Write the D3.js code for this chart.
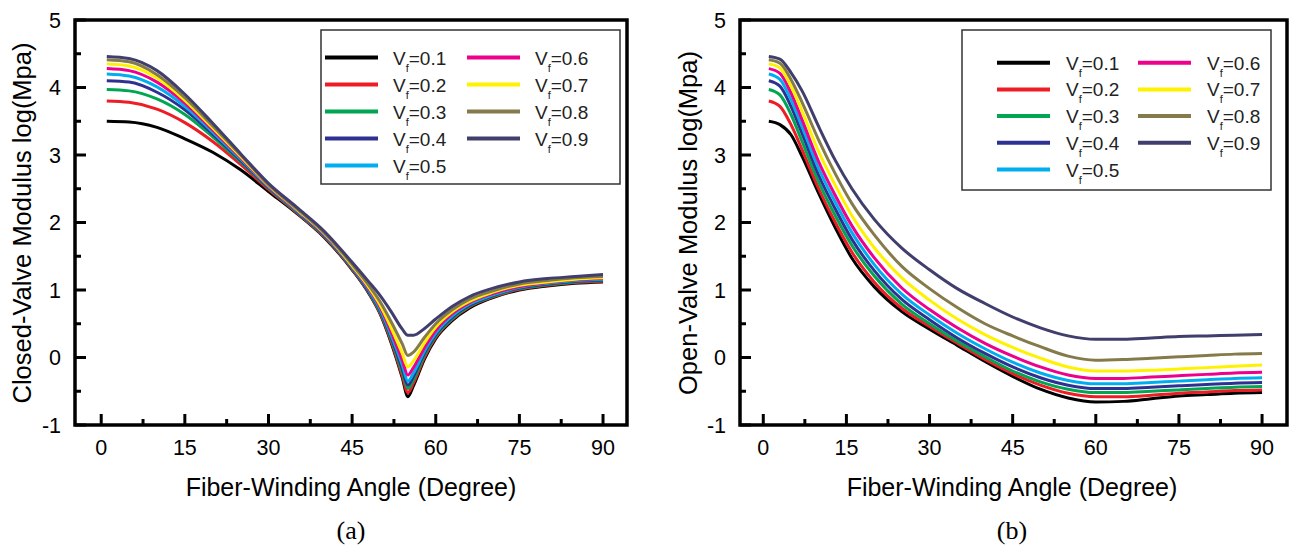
<!DOCTYPE html>
<html><head><meta charset="utf-8">
<script src="https://cdn.jsdelivr.net/npm/d3@7"></script>
<style>html,body{margin:0;padding:0;background:#fff;}svg{display:block;}</style>
</head><body>
<svg id="c" width="1291" height="546"></svg>
<script>
// ---------- DATA ----------
const vfLabels = ["0.1","0.2","0.3","0.4","0.5","0.6","0.7","0.8","0.9"];
const colors = ["#000000","#ee1c24","#00a651","#2e3192","#00aeef","#ec008c","#fff200","#857b4a","#403e6c"];
const xTicks = [0,15,30,45,60,75,90];
const yTicks = [-1,0,1,2,3,4,5];

// (a) Closed-valve modulus
const anglesA = [1,5,10,15,20,25,30,35,40,45,48,50,52,54,55,56,58,60,63,66,70,75,80,85,90];
const closed01 = [3.50,3.49,3.41,3.24,3.04,2.78,2.46,2.14,1.78,1.30,0.95,0.65,0.22,-0.30,-0.58,-0.42,-0.02,0.28,0.55,0.73,0.88,1.00,1.06,1.10,1.12];
const closed02 = [3.80,3.78,3.68,3.48,3.20,2.86,2.49,2.15,1.79,1.31,0.96,0.66,0.24,-0.27,-0.52,-0.38,0.01,0.30,0.57,0.75,0.89,1.01,1.07,1.11,1.13];
const closed03 = [3.97,3.95,3.83,3.60,3.27,2.90,2.51,2.16,1.80,1.32,0.97,0.68,0.27,-0.22,-0.46,-0.33,0.04,0.32,0.58,0.76,0.90,1.02,1.08,1.12,1.14];
const closed04 = [4.10,4.08,3.93,3.67,3.31,2.92,2.52,2.17,1.81,1.33,0.98,0.70,0.30,-0.17,-0.41,-0.28,0.07,0.34,0.60,0.77,0.91,1.03,1.09,1.13,1.15];
const closed05 = [4.20,4.17,4.01,3.72,3.34,2.94,2.53,2.18,1.82,1.34,1.00,0.72,0.33,-0.11,-0.35,-0.23,0.10,0.36,0.62,0.79,0.92,1.04,1.10,1.14,1.16];
const closed06 = [4.28,4.25,4.08,3.77,3.37,2.96,2.54,2.19,1.83,1.35,1.02,0.75,0.38,-0.04,-0.26,-0.15,0.15,0.40,0.65,0.81,0.94,1.05,1.11,1.15,1.17];
const closed07 = [4.35,4.32,4.14,3.81,3.40,2.98,2.55,2.20,1.84,1.36,1.04,0.78,0.44,0.06,-0.14,-0.05,0.22,0.45,0.68,0.83,0.96,1.07,1.12,1.16,1.18];
const closed08 = [4.41,4.38,4.19,3.85,3.43,3.00,2.56,2.21,1.85,1.38,1.07,0.83,0.53,0.20,0.03,0.08,0.30,0.50,0.71,0.86,0.98,1.09,1.14,1.18,1.20];
const closed09 = [4.46,4.43,4.25,3.90,3.47,3.02,2.58,2.23,1.87,1.41,1.12,0.92,0.68,0.42,0.33,0.33,0.43,0.57,0.76,0.90,1.02,1.12,1.17,1.20,1.23];

// (b) Open-valve modulus
const anglesB = [1,3,5,7,10,13,16,20,25,30,35,40,45,50,55,60,65,70,75,80,85,90];
const open01 = [3.50,3.45,3.30,2.98,2.43,1.92,1.47,1.05,0.68,0.42,0.18,-0.06,-0.28,-0.47,-0.60,-0.66,-0.65,-0.61,-0.57,-0.55,-0.53,-0.52];
const open02 = [3.80,3.72,3.45,3.08,2.50,2.00,1.56,1.12,0.73,0.46,0.21,-0.03,-0.24,-0.41,-0.53,-0.58,-0.58,-0.56,-0.53,-0.51,-0.49,-0.48];
const open03 = [3.97,3.89,3.60,3.20,2.60,2.10,1.66,1.21,0.79,0.50,0.24,0.01,-0.20,-0.36,-0.47,-0.52,-0.52,-0.50,-0.48,-0.46,-0.44,-0.43];
const open04 = [4.10,4.02,3.72,3.32,2.70,2.20,1.75,1.29,0.86,0.56,0.29,0.06,-0.14,-0.30,-0.41,-0.46,-0.46,-0.44,-0.42,-0.40,-0.38,-0.37];
const open05 = [4.20,4.12,3.82,3.42,2.80,2.30,1.85,1.38,0.94,0.63,0.36,0.13,-0.07,-0.23,-0.34,-0.39,-0.39,-0.37,-0.35,-0.33,-0.31,-0.30];
const open06 = [4.28,4.21,3.92,3.52,2.90,2.40,1.95,1.48,1.03,0.71,0.44,0.21,0.02,-0.14,-0.26,-0.31,-0.31,-0.29,-0.27,-0.25,-0.23,-0.22];
const open07 = [4.35,4.29,4.02,3.65,3.05,2.55,2.10,1.63,1.18,0.85,0.57,0.34,0.15,-0.01,-0.14,-0.20,-0.20,-0.19,-0.17,-0.15,-0.13,-0.11];
const open08 = [4.41,4.36,4.12,3.78,3.22,2.72,2.28,1.82,1.35,1.02,0.74,0.50,0.32,0.16,0.02,-0.04,-0.03,-0.01,0.01,0.03,0.05,0.06];
const open09 = [4.46,4.42,4.22,3.95,3.42,2.92,2.50,2.05,1.62,1.30,1.02,0.80,0.60,0.44,0.32,0.27,0.27,0.29,0.31,0.32,0.33,0.34];

const closedSeries = [closed01,closed02,closed03,closed04,closed05,closed06,closed07,closed08,closed09];
const openSeries = [open01,open02,open03,open04,open05,open06,open07,open08,open09];

// ---------- DRAW ----------
const svg = d3.select("#c");
const SANS = "'Liberation Sans', Arial, sans-serif";

function panel(cfg){
  const x = d3.scaleLinear().domain(cfg.xDomain).range(cfg.xRange);
  const y = d3.scaleLinear().domain([-1,5]).range([425,20]);
  const g = svg.append("g");

  // curves
  const line = d3.line().x(d=>x(d[0])).y(d=>y(d[1])).curve(d3.curveMonotoneX);
  cfg.series.forEach((vals,i)=>{
    g.append("path").datum(cfg.angles.map((a,k)=>[a,vals[k]]))
      .attr("d",line).attr("fill","none").attr("stroke",colors[i])
      .attr("stroke-width",3).attr("stroke-linejoin","round");
  });

  // ticks (inward)
  const yMinor = d3.range(-1,5.01,0.5);
  const xMinor = d3.range(0,90.01,7.5);
  const x0 = cfg.xRange[0], x1 = cfg.xRange[1];
  const tk = g.append("g").attr("stroke","#000").attr("stroke-width",3);
  yMinor.forEach(v=>{
    const major = Number.isInteger(v);
    tk.append("line").attr("x1",x0).attr("x2",x0+(major?11:6)).attr("y1",y(v)).attr("y2",y(v));
  });
  xMinor.forEach(v=>{
    const major = v%15===0;
    tk.append("line").attr("y1",y(-1)).attr("y2",y(-1)-(major?11:6)).attr("x1",x(v)).attr("x2",x(v));
  });

  // frame
  g.append("rect").attr("x",x0).attr("y",y(5)).attr("width",x1-x0).attr("height",y(-1)-y(5))
    .attr("fill","none").attr("stroke","#000").attr("stroke-width",3.5);

  // tick labels
  yTicks.forEach(v=>{
    g.append("text").attr("x",x0-14).attr("y",y(v)).attr("dy","0.36em")
      .attr("text-anchor","end").attr("font-family",SANS).attr("font-size",21.5).text(v);
  });
  xTicks.forEach(v=>{
    g.append("text").attr("x",x(v)).attr("y",455)
      .attr("text-anchor","middle").attr("font-family",SANS).attr("font-size",21.5).text(v);
  });

  // axis titles
  g.append("text").attr("x",cfg.xTitleX).attr("y",496).attr("text-anchor","middle")
    .attr("font-family",SANS).attr("font-size",25).text("Fiber-Winding Angle (Degree)");
  g.append("text").attr("transform",`translate(${cfg.yTitleX},223) rotate(-90)`)
    .attr("text-anchor","middle").attr("font-family",SANS).attr("font-size",25.5).text(cfg.yTitle);
  g.append("text").attr("x",cfg.xTitleX).attr("y",539).attr("text-anchor","middle")
    .attr("font-family","'Liberation Serif', 'Times New Roman', serif").attr("font-size",26).text(cfg.tag);

  // legend
  const L = cfg.legend;
  g.append("rect").attr("x",L.x).attr("y",L.y).attr("width",L.w).attr("height",L.h)
    .attr("fill","#fff").attr("stroke","#333").attr("stroke-width",1.5);
  vfLabels.forEach((lab,i)=>{
    const col = i<5?0:1, row = i<5?i:i-5;
    const lx = col===0?L.c1:L.c2;
    const ly = L.r0 + row*L.dr;
    g.append("line").attr("x1",lx).attr("x2",lx+53).attr("y1",ly).attr("y2",ly)
      .attr("stroke",colors[i]).attr("stroke-width",4);
    const t = g.append("text").attr("x",lx+L.tx).attr("y",ly+7).attr("font-family",SANS)
      .attr("font-size",19).attr("fill","#222");
    t.append("tspan").text("V");
    t.append("tspan").attr("font-size",11).attr("dy",7).text("f");
    t.append("tspan").attr("dy",-7).text("="+lab);
  });
}

panel({xDomain:[-4.7,94.3], xRange:[75,627], angles:anglesA, series:closedSeries,
  yTitle:"Closed-Valve Modulus log(Mpa)", yTitleX:31, xTitleX:351, tag:"(a)",
  legend:{x:321,y:30,w:299,h:154,c1:325,c2:467,r0:57.5,dr:27,tx:68}});
panel({xDomain:[-4.2,94.5], xRange:[740,1287], angles:anglesB, series:openSeries,
  yTitle:"Open-Valve Modulus log(Mpa)", yTitleX:697, xTitleX:1012, tag:"(b)",
  legend:{x:962,y:30,w:309,h:160,c1:997,c2:1138,r0:62.7,dr:26.7,tx:69}});
</script>
</body></html>
